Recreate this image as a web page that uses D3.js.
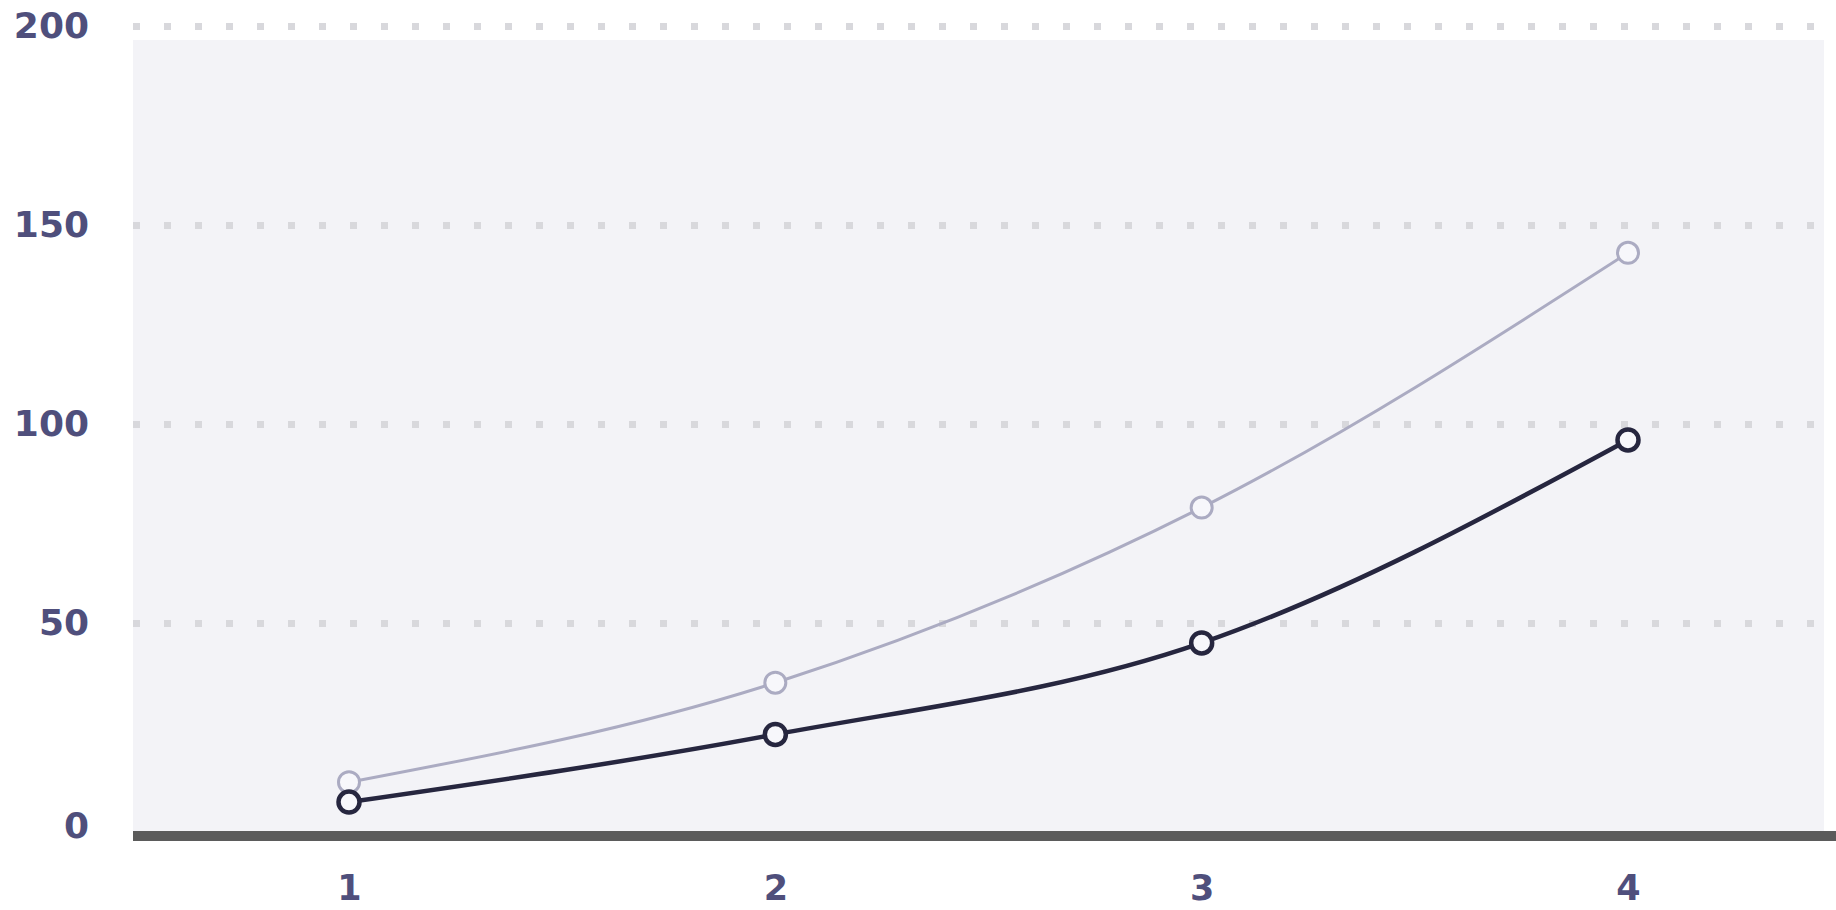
<!DOCTYPE html>
<html>
<head>
<meta charset="utf-8">
<script src="https://cdn.jsdelivr.net/npm/d3@7"></script>
<style>
  html, body { margin: 0; padding: 0; background: #fff; }
  svg { display: block; }
</style>
</head>
<body>
<svg id="chart"></svg>
<script>
// data
const categories = [1, 2, 3, 4];
const upperSeries = [10, 35, 79, 143];
const lowerSeries = [5, 22, 45, 96];
const yTicks = [0, 50, 100, 150, 200];

const width = 1836;
const height = 910;
const plotLeft = 133;
const plotRight = 1824;
const plotTop = 26;
const zeroY = 822;
const labelFont = 'DejaVu Sans, sans-serif';

const svg = d3.select('#chart')
  .attr('width', width)
  .attr('height', height);

const x = d3.scalePoint()
  .domain(categories)
  .range([349, 1628]);

const y = d3.scaleLinear()
  .domain([0, 200])
  .range([zeroY, plotTop]);

// plot background
svg.append('rect')
  .attr('x', plotLeft)
  .attr('y', plotTop + 14)
  .attr('width', plotRight - plotLeft)
  .attr('height', zeroY - plotTop)
  .attr('fill', '#f3f3f7');

// dotted grid
const grid = svg.append('g')
  .attr('transform', `translate(${plotLeft}, 0)`)
  .call(d3.axisLeft(y).tickValues(yTicks.filter(d => d > 0))
    .tickSize(-(width - plotLeft)).tickFormat(''));
grid.select('.domain').remove();
grid.selectAll('.tick line')
  .attr('stroke', '#d8d8dc')
  .attr('stroke-width', 7)
  .attr('stroke-dasharray', '7 24');

// y labels
const yAxis = svg.append('g')
  .attr('transform', 'translate(89, 0)')
  .call(d3.axisLeft(y).tickValues(yTicks).tickSize(0).tickPadding(0));
yAxis.select('.domain').remove();
yAxis.selectAll('text')
  .attr('font-family', labelFont)
  .attr('font-weight', 'bold')
  .attr('font-size', 36)
  .attr('fill', '#4f4f7c')
  .attr('dy', d => d === 0 ? '0.42em' : '0.32em');

// baseline + x labels
const xAxis = svg.append('g')
  .attr('transform', `translate(0, ${zeroY + 14})`)
  .call(d3.axisBottom(x).tickSize(0).tickPadding(39));
xAxis.select('.domain')
  .attr('d', `M${plotLeft},0H${width}`)
  .attr('stroke', '#5b5b5b')
  .attr('stroke-width', 10);
xAxis.selectAll('text')
  .attr('font-family', labelFont)
  .attr('font-weight', 'bold')
  .attr('font-size', 35)
  .attr('fill', '#4f4f7c');

const line = d3.line()
  .x((d, i) => x(categories[i]))
  .y(d => y(d))
  .curve(d3.curveMonotoneX);

function drawSeries(values, color, lw) {
  svg.append('path')
    .datum(values)
    .attr('d', line)
    .attr('fill', 'none')
    .attr('stroke', color)
    .attr('stroke-width', lw);
  svg.append('g').selectAll('circle')
    .data(values)
    .enter()
    .append('circle')
    .attr('cx', (d, i) => x(categories[i]))
    .attr('cy', d => y(d))
    .attr('r', 10.5)
    .attr('fill', '#f7f7fb')
    .attr('stroke', color)
    .attr('stroke-width', lw);
}

drawSeries(upperSeries, '#ababc2', 3);
drawSeries(lowerSeries, '#26263f', 4.5);
</script>
</body>
</html>
